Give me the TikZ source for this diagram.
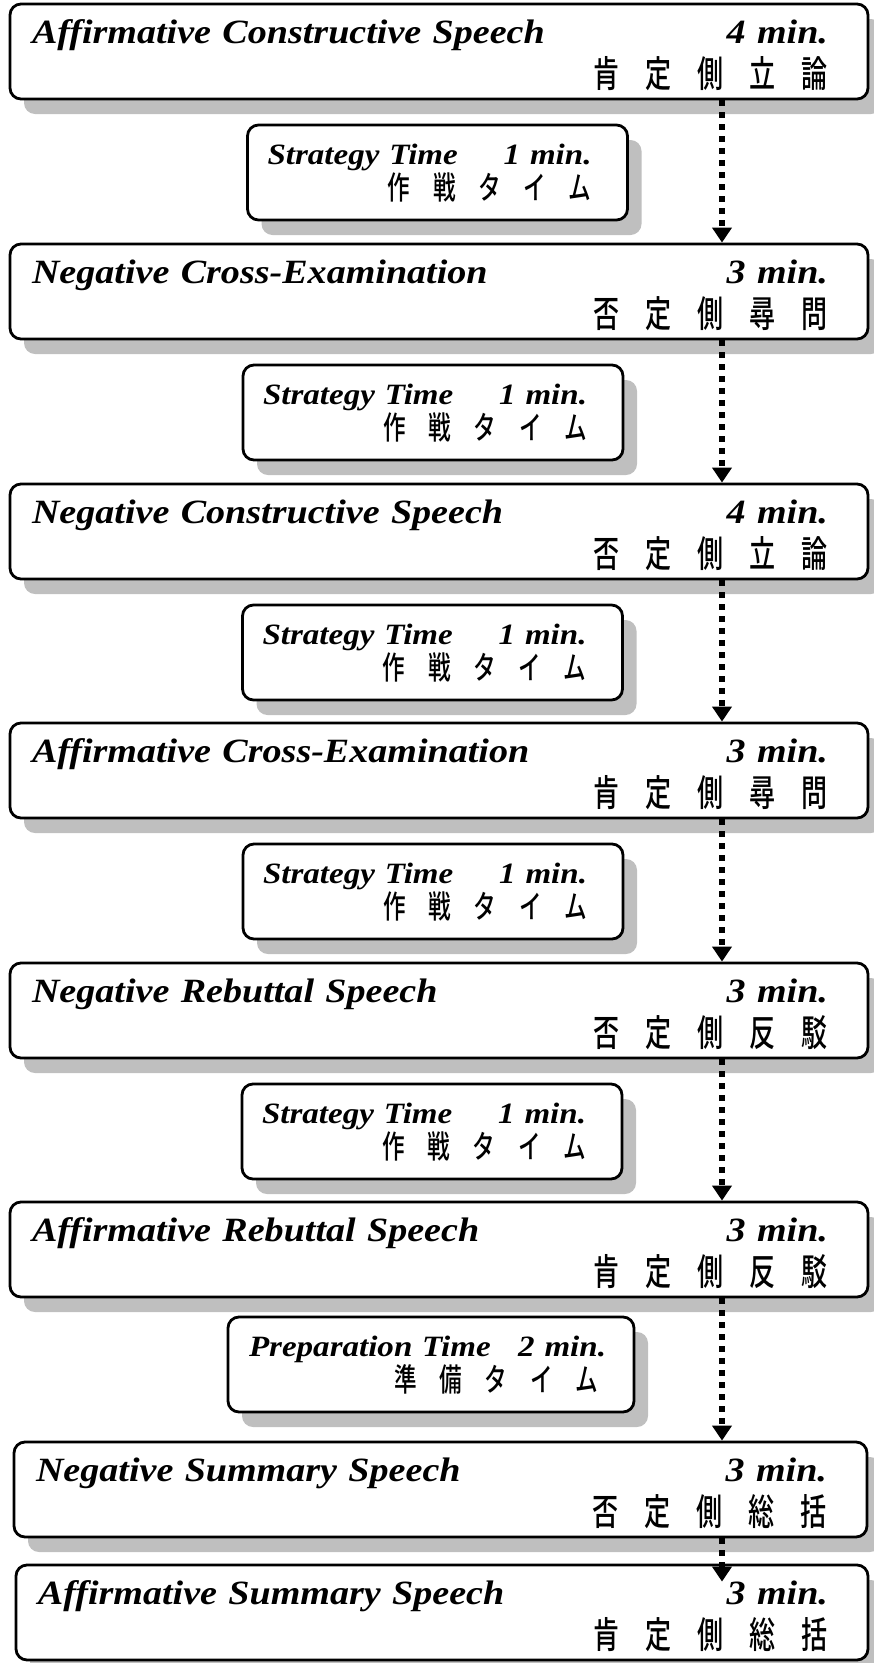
\documentclass[tikz,border=0pt]{standalone}
\usepackage{fontspec}
\setmainfont[FakeStretch=1.12]{Liberation Serif}
\newfontfamily\jpfont[Scale=1.08,FakeStretch=0.71,BoldFont={Noto Sans CJK JP Medium}]{Noto Sans CJK JP}
\newcommand{\jp}[1]{{\normalfont\jpfont\bfseries #1}}
\usetikzlibrary{shadows,arrows.meta}

\begin{document}
\begin{tikzpicture}[x=1pt, y=-1pt,
  panel/.style={draw, line width=2.8pt, rounded corners=11pt, fill=white,
    drop shadow={shadow xshift=14pt, shadow yshift=-15pt, fill=black!25, opacity=1},
    minimum height=95pt, inner ysep=0pt, align=left},
  speechbox/.style={panel, minimum width=858pt, inner xsep=40pt, text width=778pt,
    font=\fontsize{34}{44}\selectfont\bfseries\itshape,
    execute at begin node={\rule{0pt}{32pt}\hspace*{-18pt}}},
  timebox/.style={panel, minimum width=380pt, inner xsep=36pt, text width=308pt,
    font=\fontsize{29.5}{35}\selectfont\bfseries\itshape,
    execute at begin node={\rule{0pt}{22pt}\hspace*{-16pt}}},
  flow/.style={line width=6pt, dash pattern=on 6pt off 6pt,
    -{Triangle[width=19pt,length=15pt]}}]
\useasboundingbox (0,0) rectangle (874,1663);

% Speeches
\node[speechbox] (acs) at (439,51.5) {Affirmative Constructive Speech\hfill 4 min.\\\hfill\jp{肯　定　側　立　論}};
\node[speechbox] (ncx) at (439,291.5) {Negative Cross-Examination\hfill 3 min.\\\hfill\jp{否　定　側　尋　問}};
\node[speechbox] (ncs) at (439,531.5) {Negative Constructive Speech\hfill 4 min.\\\hfill\jp{否　定　側　立　論}};
\node[speechbox] (acx) at (439,770.5) {Affirmative Cross-Examination\hfill 3 min.\\\hfill\jp{肯　定　側　尋　問}};
\node[speechbox] (nrs) at (439,1010.5) {Negative Rebuttal Speech\hfill 3 min.\\\hfill\jp{否　定　側　反　駁}};
\node[speechbox] (ars) at (439,1249.5) {Affirmative Rebuttal Speech\hfill 3 min.\\\hfill\jp{肯　定　側　反　駁}};
\node[speechbox, minimum width=853pt, text width=773pt] (nss) at (440.5,1489.5) {Negative Summary Speech\hfill 3 min.\\\hfill\jp{否　定　側　総　括}};
\node[speechbox, minimum width=852pt, text width=772pt] (ass) at (442,1612.5) {Affirmative Summary Speech\hfill 3 min.\\\hfill\jp{肯　定　側　総　括}};

% Strategy and preparation time
\node[timebox] (st1) at (437.5,172.5) {Strategy Time\hfill 1 min.\\\hfill\jp{作　戦　タ　イ　ム}};
\node[timebox] (st2) at (433,412.5) {Strategy Time\hfill 1 min.\\\hfill\jp{作　戦　タ　イ　ム}};
\node[timebox] (st3) at (432.5,652.5) {Strategy Time\hfill 1 min.\\\hfill\jp{作　戦　タ　イ　ム}};
\node[timebox] (st4) at (433,891.5) {Strategy Time\hfill 1 min.\\\hfill\jp{作　戦　タ　イ　ム}};
\node[timebox] (st5) at (432,1131.5) {Strategy Time\hfill 1 min.\\\hfill\jp{作　戦　タ　イ　ム}};
\node[timebox, minimum width=406pt, inner xsep=28pt, text width=350pt] (prep) at (431,1364.5) {\hspace*{9pt}Preparation Time\hfill 2 min.\\\hfill\jp{準　備　タ　イ　ム}\kern8pt};

% Arrows
\coordinate (axis) at (722,0);
\draw[flow] (acs.south -| axis) -- (ncx.north -| axis);
\draw[flow] (ncx.south -| axis) -- (ncs.north -| axis);
\draw[flow] (ncs.south -| axis) -- (acx.north -| axis);
\draw[flow] (acx.south -| axis) -- (nrs.north -| axis);
\draw[flow] (nrs.south -| axis) -- (ars.north -| axis);
\draw[flow] (ars.south -| axis) -- (nss.north -| axis);
\draw[flow, shorten >=-18pt] (nss.south -| axis) -- (ass.north -| axis);
\end{tikzpicture}
\end{document}
